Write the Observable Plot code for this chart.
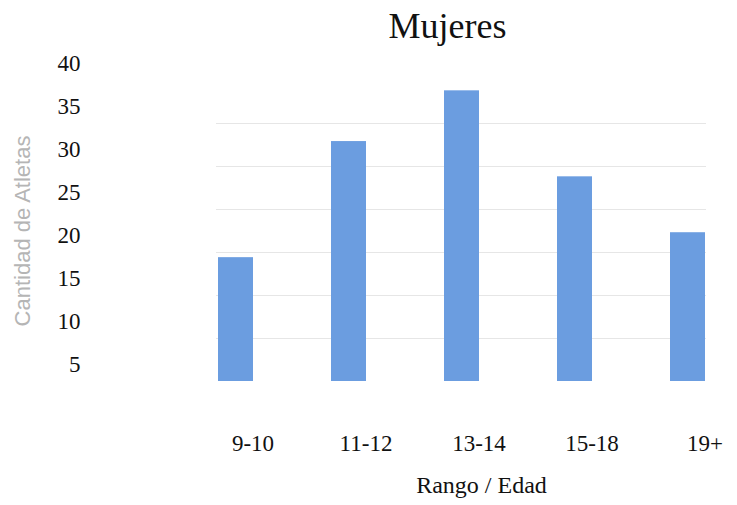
<!DOCTYPE html>
<html>
<head>
<meta charset="utf-8">
<script src="https://cdn.jsdelivr.net/npm/d3@7"></script>
<script src="https://cdn.jsdelivr.net/npm/@observablehq/plot@0.6"></script>
<style>
  html, body { margin: 0; padding: 0; background: #fff; }
  #chart svg text { font-family: 'Liberation Serif', 'Times New Roman', serif; }
  #chart svg text.ylab, #chart svg g.ylab text { font-family: 'Liberation Sans', Arial, sans-serif; }
</style>
</head>
<body>
<div id="chart"></div>
<script>
const rangos = ["9-10", "11-12", "13-14", "15-18", "19+"];
const atletas = [19.4, 32.9, 38.8, 28.8, 22.3];
const yTicks = [5, 10, 15, 20, 25, 30, 35, 40];
const gridTicks = [10, 15, 20, 25, 30, 35];
const titulo = "Mujeres";
const etiquetaX = "Rango / Edad";
const etiquetaY = "Cantidad de Atletas";

const data = rangos.map((r, i) => ({rango: r, valor: atletas[i]}));
const serif = "'Liberation Serif', 'Times New Roman', serif";

const plot = Plot.plot({
  width: 737,
  height: 505,
  marginLeft: 216,
  marginRight: 31,
  marginTop: 80,
  marginBottom: 124,
  style: {background: "#fff", color: "#111", fontFamily: serif},
  x: {domain: rangos, paddingInner: 0.692, paddingOuter: 0, label: null},
  y: {domain: [5, 40], label: null},
  marks: [
    Plot.gridY(gridTicks, {stroke: "#e6e6e6", strokeOpacity: 1}),
    Plot.barY(data, {x: "rango", y1: 5, y2: "valor", fill: "#6b9de0"}),
    Plot.axisY(yTicks, {tickSize: 0, tickPadding: 136, dy: -16.5, fontSize: 23, fontFamily: serif, label: null}),
    Plot.axisX({tickSize: 0, tickPadding: 53, dx: 17, fontSize: 23, fontFamily: serif, label: null}),
    Plot.text([titulo], {frameAnchor: "top", dy: -54, dx: -14, lineAnchor: "middle", fontSize: 36, fontFamily: serif, fill: "#111"}),
    Plot.text([etiquetaX], {frameAnchor: "bottom", dy: 104, dx: 20, lineAnchor: "middle", fontSize: 24, fontFamily: serif, fill: "#111"}),
    Plot.text([etiquetaY], {frameAnchor: "left", textAnchor: "middle", dx: -194, rotate: -90, lineAnchor: "middle", fontSize: 22, fill: "#b5b5b5", className: "ylab"})
  ]
});
document.getElementById("chart").appendChild(plot);
</script>
</body>
</html>
